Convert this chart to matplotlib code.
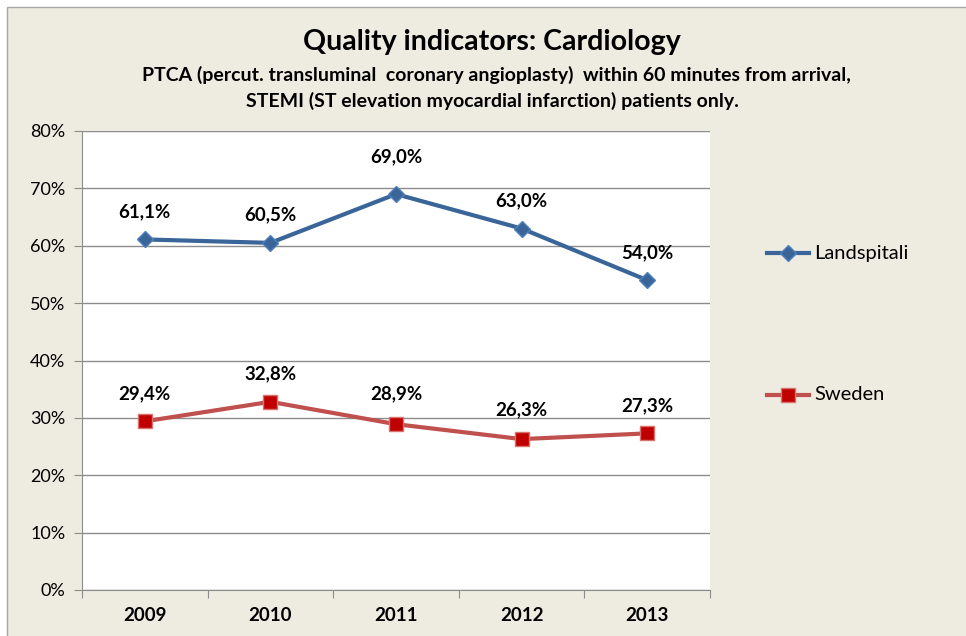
import matplotlib.pyplot as plt
from matplotlib.patches import Rectangle
from matplotlib.lines import Line2D

years = ['2009', '2010', '2011', '2012', '2013']
landspitali = [61.1, 60.5, 69.0, 63.0, 54.0]
sweden = [29.4, 32.8, 28.9, 26.3, 27.3]
yticks = [0, 10, 20, 30, 40, 50, 60, 70, 80]

plt.rcParams['font.family'] = ['Lato', 'DejaVu Sans']

bg = '#EEEBE1'
blue = '#3A6599'
red = '#C0504D'

fig = plt.figure(figsize=(9.66, 6.36), dpi=100, facecolor='white')
# outer chart frame
fig.patches.append(Rectangle((7 / 966, -0.01), 1.02, 1 - 7 / 636 + 0.01,
                             transform=fig.transFigure, facecolor=bg,
                             edgecolor='#A6A6A6', linewidth=1, zorder=-1))

ax = fig.add_axes([82 / 966, 46 / 636, 628 / 966, 459 / 636])
ax.set_facecolor('white')

x = list(range(len(years)))
ax.plot(x, landspitali, color=blue, lw=3, marker='D', ms=8,
        mfc=blue, mec='#4F81BD', mew=1, zorder=3)
ax.plot(x, sweden, color=red, lw=3, marker='s', ms=10,
        mfc='#C00000', mec='#D9716E', mew=1, zorder=3)

# label offsets (points) as placed in the original
l_off = [20, 20, 27, 20, 20]
s_off = [20, 20, 22, 21, 20]
for xi, v, off in zip(x, landspitali, l_off):
    ax.annotate(f'{v:.1f}%'.replace('.', ','), (xi, v), xytext=(0, off),
                textcoords='offset points', ha='center', va='center',
                fontsize=13.5, fontweight='bold')
for xi, v, off in zip(x, sweden, s_off):
    ax.annotate(f'{v:.1f}%'.replace('.', ','), (xi, v), xytext=(0, off),
                textcoords='offset points', ha='center', va='center',
                fontsize=13.5, fontweight='bold')

ax.set_xlim(-0.5, len(years) - 0.5)
ax.set_ylim(0, 80)
ax.set_yticks(yticks)
ax.set_yticklabels([f'{t}%' for t in yticks], fontsize=13)
ax.yaxis.grid(True, color='#8C8C8C', lw=1)
ax.set_axisbelow(True)

ax.set_xticks([i - 0.5 for i in range(len(years) + 1)])
ax.set_xticklabels([])
ax.set_xticks(x, minor=True)
ax.set_xticklabels(years, minor=True, fontsize=13.5, fontweight='bold')
ax.tick_params(axis='x', which='minor', length=0, pad=12)
ax.tick_params(axis='x', which='major', length=6, color='#8C8C8C')
ax.tick_params(axis='y', length=6, color='#8C8C8C', pad=6)

for side in ['top', 'right']:
    ax.spines[side].set_visible(False)
for side in ['left', 'bottom']:
    ax.spines[side].set_color('#8C8C8C')

fig.text(492 / 966, 1 - 42 / 636, 'Quality indicators: Cardiology',
         ha='center', va='center', fontsize=20.5, fontweight='bold')
fig.text(496 / 966, 1 - 75 / 636,
         'PTCA (percut. transluminal  coronary angioplasty)  within 60 minutes from arrival,',
         ha='center', va='center', fontsize=14, fontweight='bold')
fig.text(492 / 966, 1 - 101 / 636,
         'STEMI (ST elevation myocardial infarction) patients only.',
         ha='center', va='center', fontsize=14, fontweight='bold')

# legend entries
for label, color, marker, ms, mfc, mec, yy in [
        ('Landspitali', blue, 'D', 8, blue, '#4F81BD', 253),
        ('Sweden', red, 's', 10, '#C00000', '#D9716E', 395)]:
    fy = 1 - yy / 636
    fig.add_artist(Line2D([767 / 966, 809 / 966], [fy, fy], color=color, lw=3,
                          transform=fig.transFigure))
    fig.add_artist(Line2D([788 / 966], [fy], marker=marker, ms=ms, mfc=mfc,
                          mec=mec, color=color, transform=fig.transFigure))
    fig.text(814 / 966, fy, label, ha='left', va='center', fontsize=14.5)

fig.savefig('out.png', dpi=100, facecolor=fig.get_facecolor())
